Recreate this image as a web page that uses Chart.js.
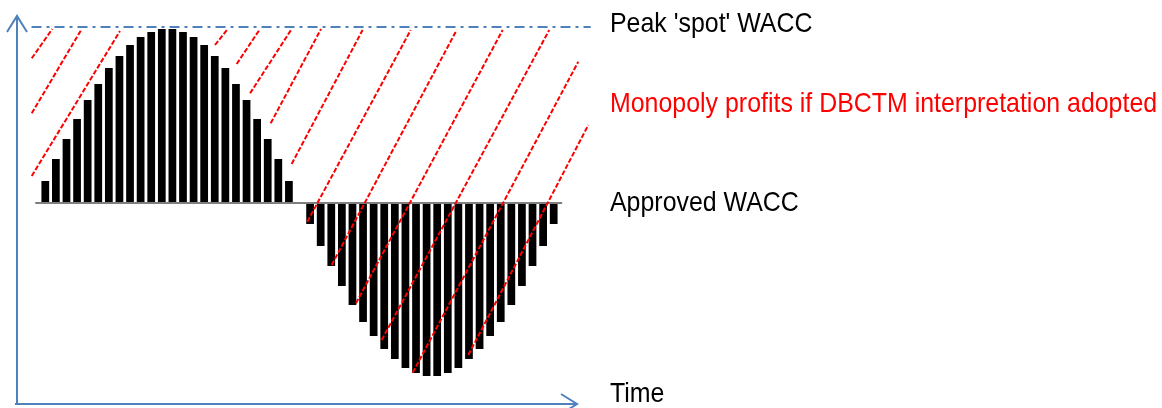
<!DOCTYPE html>
<html>
<head>
<meta charset="utf-8">
<script src="https://cdn.jsdelivr.net/npm/chart.js@4.4.0/dist/chart.umd.min.js"></script>
<style>
  html, body { margin: 0; padding: 0; background: #fff; }
  #wrap { position: relative; width: 1162px; height: 408px; overflow: hidden; }
  canvas { position: absolute; left: 0; top: 0; }
  .lbl {
    position: absolute; left: 610px;
    font-family: "Liberation Sans", Arial, sans-serif;
    font-size: 28px; line-height: 28px; white-space: nowrap;
    transform: scaleX(0.89); transform-origin: 0 0; color: #000;
  }
</style>
</head>
<body>
<div id="wrap">
  <canvas id="chart" width="1162" height="408"></canvas>
  <div class="lbl" style="top:9px">Peak 'spot' WACC</div>
  <div class="lbl" style="top:89px;color:#ff0000">Monopoly profits if DBCTM interpretation adopted</div>
  <div class="lbl" style="top:188px">Approved WACC</div>
  <div class="lbl" style="top:379px">Time</div>
</div>
<script>
// spot WACC relative to approved WACC, one value per time slot
var barValues = [22, 44, 64, 84, 103, 119, 135, 147, 158, 166, 171, 174,
                 174, 171, 166, 158, 147, 135, 119, 103, 84, 64, 44, 22,
                 0,
                 -21, -43, -63, -83, -102, -119, -133, -146, -156, -165, -170, -173,
                 -173, -170, -165, -156, -146, -133, -119, -102, -83, -63, -43, -21];

var peakWacc = 176;
var approvedWacc = 0;
var peakFrom = -0.3, peakTo = 52.5;       // extent of the peak line (time units)
var approvedFrom = 0.05, approvedTo = 49.8;

// red hatch strokes: lower end (x1,y1) and upper end (x2,y2)
var hatchX1 = [-0.28, -0.28, -0.28, 17.02, 19.07, 20.33, 22.28, 24.26, 25.74, 28.04, 30.33, 32.76, 35.69, 40.94];
var hatchY1 = [144.7, 89.7, 27, 158, 139, 109.7, 79.7, 39, -18.7, -62, -100.3, -137, -169.7, -152];
var hatchX2 = [1.66, 4.44, 8.05, 18.22, 21.27, 24.26, 27.03, 30.96, 35.5, 39.84, 44.18, 48.58, 51.32, 52.27];
var hatchY2 = [174, 174, 172, 174, 174, 174, 174, 173, 173, 173, 173, 173, 141.3, 78];

//draws the blue time / WACC axes with open arrow heads
var arrowAxes = {
    id: 'arrowAxes',
    afterDraw: function(chart) {
        var ctx = chart.ctx;
        var a = chart.chartArea;
        var ox = a.left - 23, oy = a.bottom, tipX = a.right + 18, tipY = 16;
        ctx.save();
        ctx.strokeStyle = '#4f81bd';
        ctx.lineWidth = 2;
        ctx.beginPath();
        ctx.moveTo(ox, oy + 1);
        ctx.lineTo(ox, tipY);
        ctx.moveTo(ox - 10, tipY + 16);
        ctx.lineTo(ox, tipY);
        ctx.lineTo(ox + 10, tipY + 16);
        ctx.moveTo(ox - 2, oy);
        ctx.lineTo(tipX, oy);
        ctx.moveTo(tipX - 16, oy - 10);
        ctx.lineTo(tipX, oy);
        ctx.lineTo(tipX - 16, oy + 10);
        ctx.stroke();
        ctx.restore();
    }
};

var datasets = [];

datasets.push({
    type: 'bar',
    data: barValues.map(function(v, i) { return { x: i + 1, y: v }; }),
    backgroundColor: '#000000',
    borderWidth: 0,
    barPercentage: 0.73,
    categoryPercentage: 1.0,
    order: 10
});

datasets.push({
    type: 'line',
    data: [{ x: approvedFrom, y: approvedWacc }, { x: approvedTo, y: approvedWacc }],
    borderColor: '#7f7f7f',
    borderWidth: 2,
    pointRadius: 0,
    clip: false,
    order: 5
});

for (var i = 0; i < hatchX1.length; i++) {
    datasets.push({
        type: 'line',
        data: [{ x: hatchX1[i], y: hatchY1[i] }, { x: hatchX2[i], y: hatchY2[i] }],
        borderColor: '#ff0000',
        borderWidth: 2,
        borderDash: [5, 2],
        pointRadius: 0,
        clip: false,
        order: 2
    });
}

datasets.push({
    type: 'line',
    data: [{ x: peakFrom, y: peakWacc }, { x: peakTo, y: peakWacc }],
    borderColor: '#4f81bd',
    borderWidth: 2,
    borderDash: [10, 5, 3, 5],
    pointRadius: 0,
    clip: false,
    order: 1
});

new Chart(document.getElementById('chart').getContext('2d'), {
    type: 'bar',
    data: { datasets: datasets },
    options: {
        responsive: false,
        animation: false,
        layout: { padding: { left: 40, right: 603, top: 27, bottom: 4 } },
        plugins: { legend: { display: false }, tooltip: { enabled: false } },
        scales: {
            x: { type: 'linear', min: 0.5, max: 49.5, offset: false, display: false },
            y: { min: -201, max: 176, display: false }
        }
    },
    plugins: [arrowAxes]
});
</script>
</body>
</html>
